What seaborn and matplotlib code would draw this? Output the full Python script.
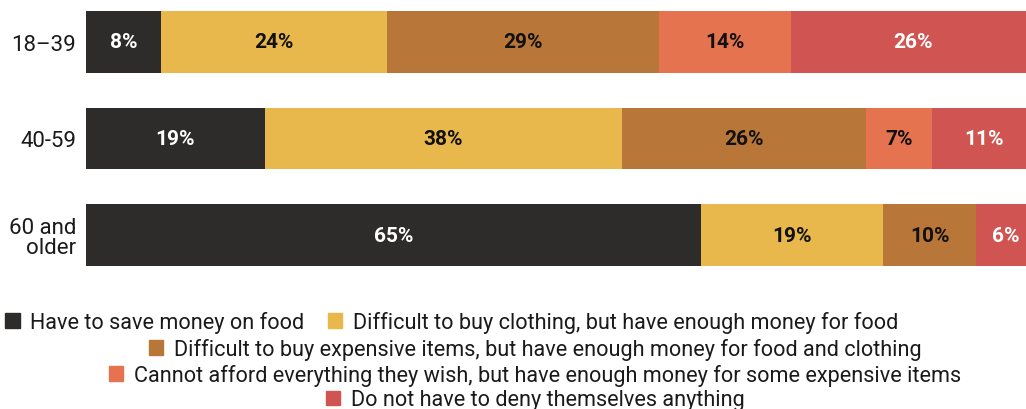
import numpy as np
import pandas as pd
import matplotlib
matplotlib.use("Agg")
import matplotlib.pyplot as plt
from matplotlib.patches import Patch
import seaborn as sns

# data (labels are rounded)
groups = ["18–39", "40-59", "60 and\nolder"]
answers = [
    "Have to save money on food",
    "Difficult to buy clothing, but have enough money for food",
    "Difficult to buy expensive items, but have enough money for food and clothing",
    "Cannot afford everything they wish, but have enough money for some expensive items",
    "Do not have to deny themselves anything",
]
save_food = [8, 19, 65.4]
hard_clothing = [24, 38, 19.4]
hard_expensive = [29, 26, 9.9]
cannot_afford = [14, 7, 0]
no_limits = [26, 11, 6.2]

colors = ["#2e2c2a", "#e8b84c", "#b87638", "#e57350", "#d05552"]
text_colors = ["white", "#111111", "#111111", "#111111", "white"]

sns.set_theme(style="white")
plt.rcParams["font.family"] = ["Roboto", "DejaVu Sans"]

df = pd.DataFrame({"group": groups})
for name, vals in zip(answers, [save_food, hard_clothing, hard_expensive, cannot_afford, no_limits]):
    df[name] = vals
cum = df[answers].cumsum(axis=1)

fig = plt.figure(figsize=(10.26, 4.1), dpi=100)
ax = fig.add_axes([86 / 1026, 1 - 267 / 410, 940 / 1026, 255 / 410])

# stacked bars: draw the longest cumulative first, then smaller ones over it
for i in range(len(answers) - 1, -1, -1):
    sns.barplot(x=cum[answers[i]], y=df["group"], color=colors[i], saturation=1,
                width=0.64, orient="h", linewidth=0, ax=ax)

for j in range(len(groups)):
    for i, name in enumerate(answers):
        v = df.loc[j, name]
        if v <= 0:
            continue
        mid = cum.loc[j, name] - v / 2
        ax.text(mid, j, f"{v:.0f}%", ha="center", va="center", color=text_colors[i],
                fontsize=15, fontweight="bold")

ax.set_xlim(0, 100)
ax.set_ylim(2.32, -0.32)
ax.set_xticks([])
ax.set_xlabel("")
ax.set_ylabel("")
ax.tick_params(axis="y", length=0, pad=7, labelsize=16, labelcolor="#1a1a1a")
for lab in ax.get_yticklabels():
    lab.set_linespacing(0.95)
sns.despine(ax=ax, left=True, bottom=True)

# legend rows as in the reference
rows = [[0, 1], [2], [3], [4]]
row_x = [452 / 1026, 535 / 1026, 535 / 1026, 535 / 1026]
row_y = [1 - 323 / 410, 1 - 350 / 410, 1 - 376 / 410, 1 - 401 / 410]
for r, idx in enumerate(rows):
    handles = [Patch(color=colors[k]) for k in idx]
    fig.legend(handles, [answers[k] for k in idx], loc="center",
               bbox_to_anchor=(row_x[r], row_y[r]), ncol=len(idx), frameon=False,
               fontsize=15.6, handlelength=0.65, handleheight=0.65, handletextpad=0.5,
               columnspacing=1.1, borderpad=0, borderaxespad=0, labelcolor="#1a1a1a")

fig.savefig("out.png", dpi=100)
